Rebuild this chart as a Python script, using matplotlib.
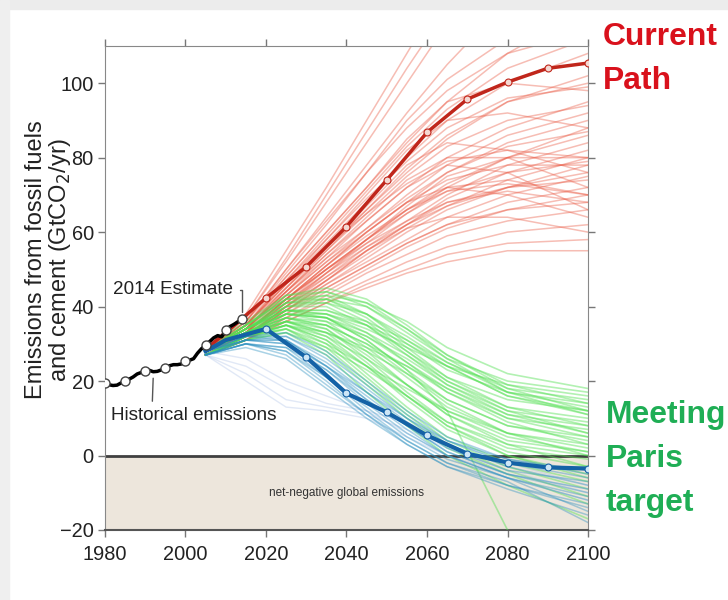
import matplotlib
matplotlib.use('Agg')
import matplotlib.pyplot as plt
from matplotlib import font_manager
from matplotlib.patches import Rectangle

# ---- data (GtCO2/yr) ----
hist_years = list(range(1980, 2015))
hist_values = [19.5, 19.0, 18.8, 18.9, 19.5, 20.0, 20.5, 21.1, 21.9, 22.3,
               22.6, 22.9, 22.5, 22.6, 23.0, 23.5, 24.1, 24.4, 24.4, 24.6,
               25.3, 25.6, 26.0, 27.5, 28.7, 29.6, 30.6, 31.6, 32.2, 31.9,
               33.6, 34.6, 35.2, 35.9, 36.8]
hist_marker_years = [1980, 1985, 1990, 1995, 2000, 2005, 2010, 2014]

path_years = [2005, 2010, 2020, 2030, 2040, 2050, 2060, 2070, 2080, 2090, 2100]
current_path = [28.5, 33.0, 42.3, 50.7, 61.5, 74.0, 86.8, 95.7, 100.3, 104.0, 105.4]
paris_path = [28.0, 31.0, 34.0, 26.4, 16.7, 11.6, 5.4, 0.5, -1.9, -3.2, -3.5]

run_years = [2005, 2015, 2025, 2035, 2045, 2055, 2065, 2080, 2100]
red_runs = [
    [28, 37, 52, 68, 84, 100, 116, 135, 160],
    [29, 38, 55, 72, 90, 108, 126, 150, 180],
    [28, 36, 50, 64, 78, 92, 105, 122, 145],
    [28, 35, 48, 60, 72, 84, 95, 108, 120],
    [28, 36, 49, 62, 76, 90, 101, 112, 118],
    [28, 35, 46, 57, 68, 80, 90, 100, 108],
    [28, 34, 45, 56, 66, 76, 85, 95, 102],
    [28, 34, 44, 54, 63, 72, 80, 88, 95],
    [28, 34, 43, 52, 61, 70, 78, 86, 92],
    [28, 33, 42, 51, 60, 68, 76, 84, 90],
    [28, 33, 42, 50, 58, 66, 73, 80, 88],
    [28, 33, 41, 49, 57, 65, 72, 80, 86],
    [28, 33, 41, 48, 56, 63, 70, 78, 84],
    [27, 32, 40, 47, 55, 62, 69, 76, 82],
    [27, 32, 40, 47, 54, 61, 67, 74, 80],
    [27, 32, 39, 46, 53, 60, 66, 72, 78],
    [27, 32, 39, 46, 52, 58, 64, 70, 75],
    [27, 32, 38, 45, 51, 57, 62, 68, 72],
    [27, 31, 38, 44, 50, 56, 61, 66, 70],
    [27, 31, 37, 43, 49, 54, 59, 63, 66],
    [27, 31, 37, 42, 47, 52, 56, 60, 62],
    [27, 31, 36, 41, 46, 50, 54, 57, 58],
    [27, 31, 36, 41, 45, 49, 52, 55, 55],
    [28, 34, 44, 54, 64, 74, 80, 80, 72],
    [28, 34, 43, 53, 63, 72, 78, 76, 66],
    [28, 35, 45, 56, 67, 78, 84, 82, 76],
    [28, 33, 42, 51, 60, 68, 72, 70, 64],
    [27, 33, 41, 50, 58, 66, 72, 74, 70],
    [28, 35, 46, 58, 70, 82, 90, 92, 88],
    [27, 32, 40, 49, 58, 67, 75, 80, 80],
    [28, 36, 48, 60, 72, 85, 95, 100, 98],
    [27, 32, 39, 47, 55, 62, 68, 71, 68],
    [28, 35, 47, 59, 71, 83, 93, 104, 112],
    [28, 34, 45, 55, 65, 75, 83, 90, 94],
    [27, 33, 43, 52, 60, 68, 74, 78, 78],
    [27, 33, 42, 50, 57, 63, 68, 72, 74],
    [28, 34, 44, 53, 61, 69, 76, 83, 87],
    [27, 32, 41, 49, 56, 62, 67, 72, 76],
    [28, 35, 46, 56, 65, 73, 79, 82, 80],
    [27, 33, 42, 51, 59, 66, 71, 73, 70],
    [28, 36, 50, 63, 76, 88, 98, 108, 114],
    [28, 34, 44, 55, 66, 77, 86, 95, 100],
    [27, 32, 40, 48, 55, 61, 64, 64, 60],
    [27, 33, 42, 50, 58, 65, 71, 76, 79],
    [28, 35, 47, 58, 69, 79, 88, 96, 99],
    [28, 37, 53, 70, 87, 104, 120, 140, 165],
    [27, 32, 39, 45, 51, 57, 62, 66, 68],
]
green_runs = [
    [29, 36, 43, 44, 40, 33, 26, 20, 17],
    [29, 35, 42, 43, 38, 30, 23, 17, 14],
    [28, 35, 41, 41, 36, 28, 21, 15, 12],
    [28, 34, 40, 40, 35, 27, 19, 12, 9],
    [28, 34, 39, 38, 33, 25, 17, 10, 7],
    [28, 34, 39, 37, 31, 23, 15, 8, 5],
    [28, 33, 38, 36, 29, 21, 13, 6, 3],
    [28, 33, 37, 35, 28, 19, 11, 4, 1],
    [28, 33, 37, 34, 26, 17, 9, 2, -1],
    [28, 33, 36, 33, 25, 16, 8, 1, -3],
    [27, 32, 36, 32, 24, 15, 7, 0, -5],
    [27, 32, 35, 31, 22, 13, 5, -2, -7],
    [27, 32, 35, 30, 21, 12, 4, -3, -9],
    [27, 32, 34, 29, 20, 11, 3, -4, -11],
    [27, 31, 34, 28, 19, 10, 2, -5, -13],
    [28, 34, 40, 42, 40, 34, 27, 19, 14],
    [28, 34, 38, 37, 33, 27, 20, 13, 10],
    [28, 33, 37, 36, 32, 26, 19, 11, 6],
    [28, 33, 36, 33, 28, 22, 15, 8, 4],
    [27, 32, 35, 33, 29, 24, 18, 11, 8],
    [27, 32, 34, 30, 24, 18, 12, 6, 2],
    [27, 31, 33, 29, 23, 16, 9, 3, 0],
    [28, 35, 43, 45, 42, 35, 27, 18, 12],
    [28, 34, 41, 43, 41, 36, 29, 22, 18],
    [28, 33, 38, 37, 31, 23, 12, -20, -40],
    [27, 31, 33, 27, 17, 8, 0, -8, -17],
    [28, 34, 39, 38, 34, 29, 24, 19, 16],
    [28, 33, 38, 38, 35, 30, 24, 16, 11],
    [27, 32, 36, 35, 30, 24, 17, 9, 3],
    [28, 35, 42, 42, 37, 29, 21, 13, 8],
    [28, 34, 41, 42, 38, 31, 24, 16, 12],
    [28, 33, 39, 39, 35, 28, 20, 12, 6],
    [27, 32, 37, 35, 30, 22, 14, 6, 0],
    [27, 32, 36, 34, 27, 19, 11, 3, -3],
    [28, 34, 40, 41, 38, 32, 25, 18, 15],
    [27, 31, 35, 32, 26, 19, 12, 5, 1],
    [28, 33, 38, 37, 32, 25, 18, 10, 5],
    [27, 32, 35, 31, 24, 16, 8, 0, -6],
    [28, 35, 42, 44, 41, 34, 26, 17, 11],
    [28, 34, 39, 39, 36, 31, 25, 17, 13],
]
blue_runs = [
    [28, 32, 32, 26, 18, 10, 3, -3, -8],
    [28, 31, 31, 24, 16, 8, 1, -5, -10],
    [27, 31, 30, 23, 14, 6, 0, -6, -12],
    [27, 30, 29, 21, 12, 4, -2, -8, -14],
    [27, 30, 28, 20, 11, 3, -3, -9, -16],
    [28, 32, 33, 28, 20, 12, 5, -1, -5],
    [28, 31, 31, 25, 17, 9, 2, -4, -7],
    [27, 30, 28, 21, 13, 5, -1, -6, -11],
    [27, 29, 26, 18, 10, 3, -3, -8, -13],
    [27, 30, 29, 23, 15, 8, 1, -5, -9],
    [28, 31, 32, 27, 19, 11, 4, -2, -6],
    [27, 30, 27, 19, 11, 4, -2, -7, -18],
    [27, 31, 30, 24, 17, 10, 4, -1, -4],
    [28, 32, 31, 24, 15, 7, 0, -6, -15],
]
pale_blue_runs = [
    [27, 22, 15, 13, 11, 7, 2, -4, -10],
    [27, 24, 18, 14, 12, 9, 4, -2, -8],
    [28, 26, 20, 16, 12, 6, 0, -6, -12],
    [27, 20, 13, 12, 10, 5, 0, -5, -9],
]

# fonts: the source is a narrow sans, use Liberation Sans Narrow if present
available = {f.name for f in font_manager.fontManager.ttflist}
if 'Liberation Sans Narrow' in available:
    narrow, k = 'Liberation Sans Narrow', 1.0
else:
    narrow, k = 'Liberation Sans', 0.85


def main():
    fig = plt.figure(figsize=(7.28, 6.0), dpi=100)
    # grey frame strips of the screenshot
    fig.patches.append(Rectangle((0, 0.985), 1, 0.015, transform=fig.transFigure,
                                 color='#ececec', zorder=0))
    fig.patches.append(Rectangle((0, 0), 0.012, 1, transform=fig.transFigure,
                                 color='#efefef', zorder=0))

    ax = fig.add_axes([0.1442, 0.1167, 0.6635, 0.8067])
    ax.set_xlim(1980, 2100)
    ax.set_ylim(-20, 110)

    ax.axhspan(-20, 0, color='#ede6dc', zorder=0)
    ax.axhline(0, color='#404040', lw=2, zorder=1)

    for run in red_runs:
        ax.plot(run_years, run, color='#ea5a44', alpha=0.4, lw=1.1, zorder=2)
    for run in green_runs:
        ax.plot(run_years, run, color='#55e055', alpha=0.45, lw=1.2, zorder=3)
    for run in pale_blue_runs:
        ax.plot(run_years, run, color='#a9bfe6', alpha=0.35, lw=1, zorder=3)
    for run in blue_runs:
        ax.plot(run_years, run, color='#2a8fc0', alpha=0.4, lw=1.1, zorder=4)

    ax.plot(path_years, current_path, color='#c0261b', lw=2.5, zorder=6,
            marker='o', markevery=list(range(2, len(path_years))), ms=5,
            mfc='#f5d8d2', mec='#c0261b', mew=0.8)
    ax.plot(path_years, paris_path, color='#1462a6', lw=3, zorder=6,
            marker='o', markevery=list(range(2, len(path_years))), ms=5,
            mfc='#cde6f6', mec='#1462a6', mew=0.8)

    ax.plot(hist_years, hist_values, color='black', lw=2.5, zorder=7)
    marker_values = [hist_values[hist_years.index(y)] for y in hist_marker_years]
    ax.plot(hist_marker_years, marker_values, 'o', ms=6.5, mfc='white', mec='#444',
            mew=1, zorder=8)

    ax.annotate('2014 Estimate', xy=(2014, marker_values[-1] + 1.8), xytext=(1997, 44.5),
                ha='center', va='center', fontsize=16 * k, family=narrow, color='#222',
                arrowprops=dict(arrowstyle='-', color='#555', lw=1, relpos=(1, 0.5),
                                connectionstyle='angle,angleA=0,angleB=90,rad=0',
                                shrinkA=3, shrinkB=0))
    ax.annotate('Historical emissions', xy=(1992, 21.5), xytext=(2002, 10.8),
                ha='center', va='center', fontsize=16 * k, family=narrow, color='#222',
                arrowprops=dict(arrowstyle='-', color='#555', lw=1, relpos=(0.25, 1),
                                shrinkA=2, shrinkB=2))
    ax.text(2040, -10, 'net-negative global emissions', ha='center', va='center',
            fontsize=10 * k, family=narrow, color='#333')

    ax.set_xticks([1980, 2000, 2020, 2040, 2060, 2080, 2100])
    ax.set_yticks([-20, 0, 20, 40, 60, 80, 100])
    ax.tick_params(direction='out', length=5, width=1, color='#777',
                   top=True, right=True, labelsize=17 * k, labelcolor='#222')
    ax.tick_params(axis='x', pad=6)
    ax.tick_params(axis='y', pad=3)
    for lab in ax.get_xticklabels() + ax.get_yticklabels():
        lab.set_family(narrow)
    for side in ['left', 'top', 'right']:
        ax.spines[side].set_color('#888')
    ax.spines['bottom'].set_color('#555')
    ax.spines['bottom'].set_linewidth(1.5)

    fig.text(0.067, 0.567, 'Emissions from fossil fuels\nand cement (GtCO$_2$/yr)',
             rotation=90, ha='center', va='center', multialignment='center',
             fontsize=17, family='Liberation Sans', color='#222', linespacing=1.0)

    fig.text(603 / 728, 1 - 22 / 600, 'Current\nPath', ha='left', va='top',
             fontsize=27 * k, family=narrow, weight='bold', color='#d9111c',
             linespacing=1.6)
    fig.text(606 / 728, 1 - 400 / 600, 'Meeting\nParis\ntarget', ha='left', va='top',
             fontsize=27 * k, family=narrow, weight='bold', color='#1fae55',
             linespacing=1.6)

    fig.savefig('out.png', dpi=100, facecolor='white')
    plt.close(fig)


if __name__ == '__main__':
    main()
